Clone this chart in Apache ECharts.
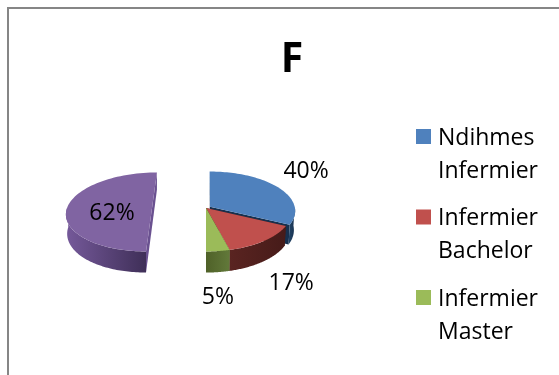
<!DOCTYPE html>
<html>
<head>
<meta charset="utf-8">
<style>html,body{margin:0;padding:0;background:#fff}#chart{width:559px;height:375px}</style>
<script src="https://cdn.jsdelivr.net/npm/echarts@6/dist/echarts.min.js"></script>
</head>
<body>
<div id="chart"></div>
<script>
// Chart content
const titleText = 'F';
const sliceValues = [40, 17, 5, 62];
const legendLabels = [['Ndihmes', 'Infermier'], ['Infermier', 'Bachelor'], ['Infermier', 'Master']];

// Slice styling
const topColors = ['#4F81BD', '#C0504D', '#9BBB59', '#8064A2'];
const wallColors = [
  ['#234568', '#17304e'],
  ['#5a2421', '#461b19'],
  ['#4f6128', '#62793a'],
  ['#75599a', '#3f2f58']
];
const cutColors = ['#17304e', '#461b19', '#62793a', '#6a5190'];
const sliceExplode = [0.055, 0, 0, 0.635];
const labelNudge = [[28, -16], [27, 43], [0, 46], [45, 5]];
const textFont = '23px "Open Sans"';

// Perspective pie: camera vanishing point, disc centre, radius, tilt and thickness
const vanish = { x: 206, y: -183 };
const discY = 208;
const radius = 85;
const tilt = 0.1;
const thickness = 19;
const undersideScale = 0.985;

const total = sliceValues.reduce((a, b) => a + b, 0);
let running = 0;
const sliceAngles = sliceValues.map(v => {
  const from = running / total * Math.PI * 2;
  running += v;
  return [from, running / total * Math.PI * 2];
});

// Projects a point on the disc (u right, w away from viewer, in radii) to the page
function project(u, w, drop) {
  const s = 1 / (1 + tilt * w);
  return [vanish.x + u * radius * s, vanish.y + (discY - vanish.y) * s + drop * s];
}

function sliceItem(params, api) {
  const i = api.value(0);
  const [a0, a1] = sliceAngles[i];
  const mid = (a0 + a1) / 2;
  const ox = Math.sin(mid) * sliceExplode[i];
  const oz = Math.cos(mid) * sliceExplode[i];
  const pt = (u, w, drop) => project(u + ox, w + oz, drop);
  const rim = (a, drop) => {
    const k = drop ? undersideScale : 1;
    return pt(Math.sin(a) * k, Math.cos(a), drop);
  };
  const steps = 72;
  const arc = (from, to, drop) => {
    const out = [];
    for (let k = 0; k <= steps; k++) out.push(rim(from + (to - from) * k / steps, drop));
    return out;
  };
  const children = [];
  const wallFill = new echarts.graphic.LinearGradient(0, 0, 1, 0, [
    { offset: 0, color: wallColors[i][0] },
    { offset: 1, color: wallColors[i][1] }
  ]);
  // Flat cut faces
  [a0, a1].forEach(a => {
    children.push({
      type: 'polygon',
      shape: { points: [pt(0, 0, 0), rim(a, 0), rim(a, thickness), pt(0, 0, thickness)] },
      style: { fill: cutColors[i] }
    });
  });
  // Curved outer wall, only the stretch that faces the viewer
  const w0 = Math.max(a0, Math.PI / 2);
  const w1 = Math.min(a1, Math.PI * 1.5);
  if (w1 > w0) {
    children.push({
      type: 'polygon',
      shape: { points: arc(w0, w1, 0).concat(arc(w1, w0, thickness)) },
      style: { fill: wallFill }
    });
  }
  // Top face
  children.push({
    type: 'polygon',
    shape: { points: [pt(0, 0, 0)].concat(arc(a0, a1, 0)) },
    style: { fill: topColors[i] }
  });
  // Percentage label
  const anchor = rim(mid, 0);
  children.push({
    type: 'text',
    z2: 10,
    style: {
      text: sliceValues[i] + '%',
      x: anchor[0] + labelNudge[i][0],
      y: anchor[1] + labelNudge[i][1],
      align: 'center',
      verticalAlign: 'middle',
      fill: '#000',
      font: textFont
    }
  });
  return { type: 'group', children };
}

// Legend rows: swatch beside the first of two text lines
const legendGraphics = [];
legendLabels.forEach((lines, i) => {
  const top = 129 + i * 80.5;
  legendGraphics.push({ type: 'rect', shape: { x: 416, y: top, width: 15, height: 15 }, style: { fill: topColors[i] } });
  lines.forEach((line, j) => {
    legendGraphics.push({
      type: 'text',
      style: { text: line, x: 438, y: top + 9 + j * 33, verticalAlign: 'middle', fill: '#000', font: textFont }
    });
  });
});

const chart = echarts.init(document.getElementById('chart'), null, { renderer: 'canvas' });
chart.setOption({
  animation: false,
  backgroundColor: '#fff',
  title: {
    text: titleText,
    left: 287,
    top: 35,
    textAlign: 'center',
    textStyle: { fontFamily: 'Open Sans', fontWeight: 'bold', fontSize: 41, color: '#000' }
  },
  graphic: [
    { type: 'rect', shape: { x: 8, y: 8, width: 600, height: 400 }, style: { fill: 'none', stroke: '#868686', lineWidth: 2 } }
  ].concat(legendGraphics),
  series: [{
    type: 'custom',
    coordinateSystem: 'none',
    clip: false,
    renderItem: sliceItem,
    data: sliceValues.map((v, i) => [i, v])
  }]
});
</script>
</body>
</html>
